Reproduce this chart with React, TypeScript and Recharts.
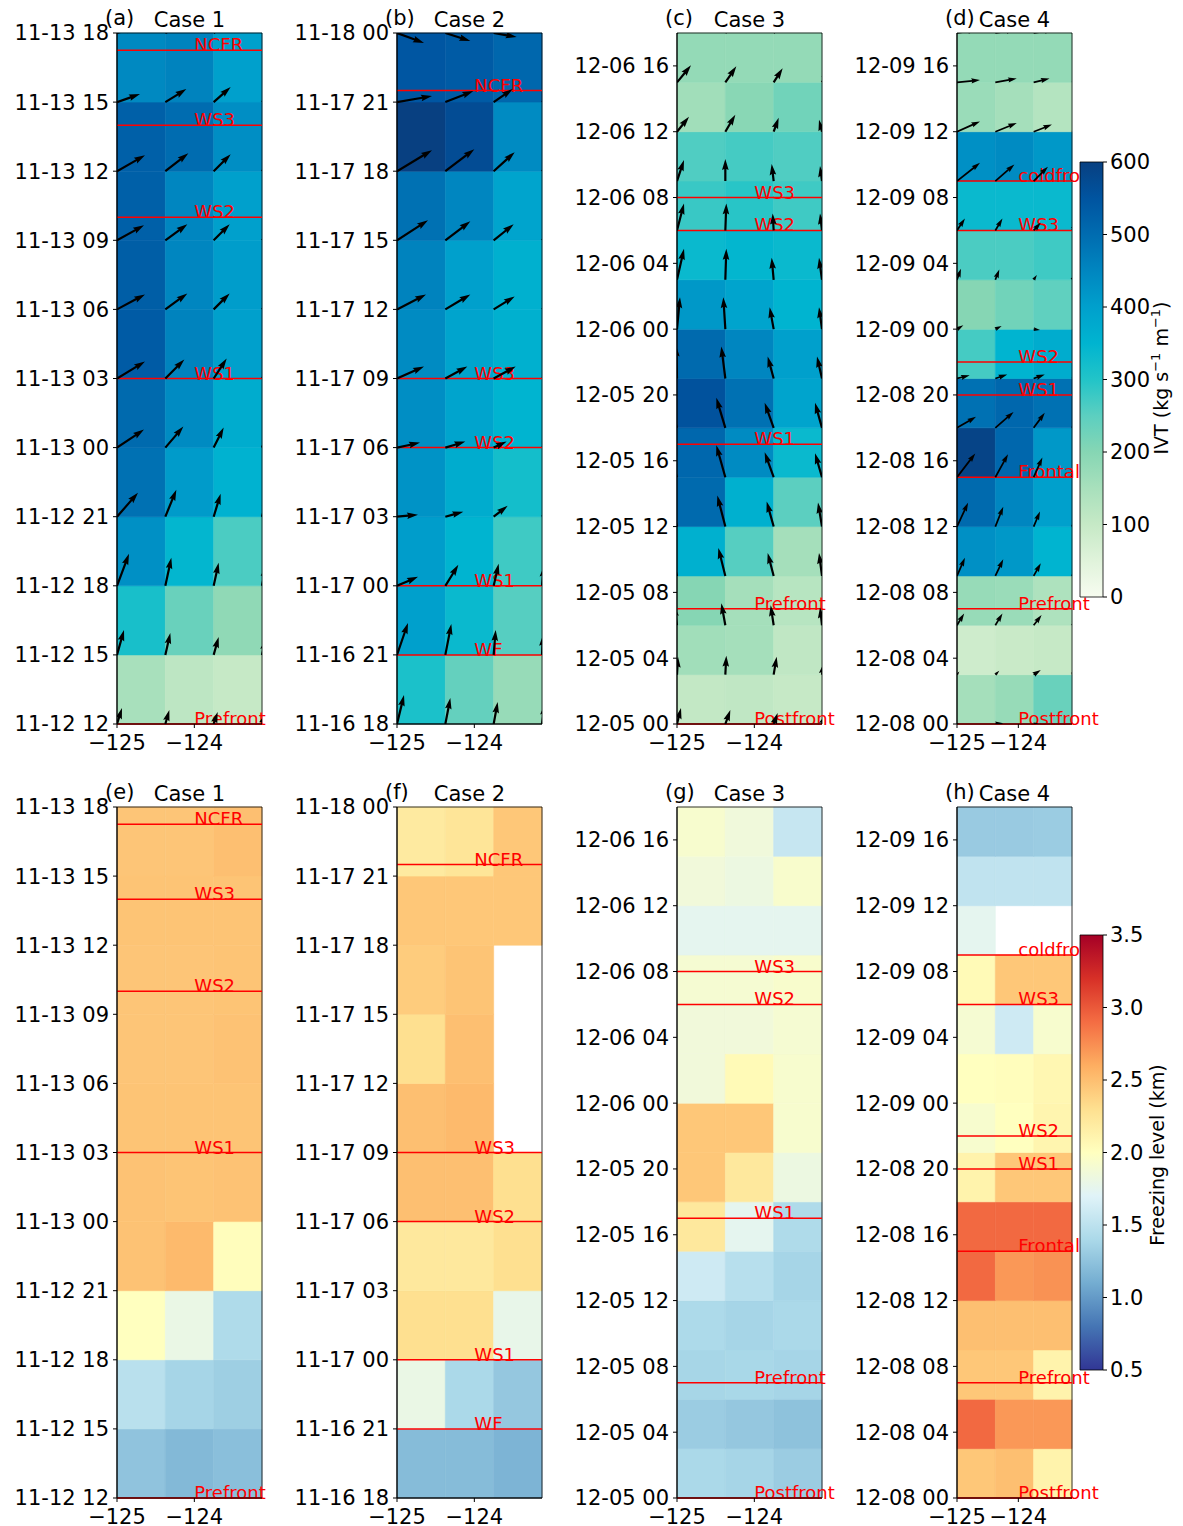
import React from "react";
import { ComposedChart, XAxis, YAxis, ReferenceArea, ReferenceLine, Scatter } from "recharts";

const FONT = "'DejaVu Sans', sans-serif";

// grid edges in longitude (deg), arrows sit on these points
const LON_EDGES = [-125, -124.375, -123.75, -123.125];
const LON_TICKS = [-125, -124];
const LABEL_LON = -124;

// time axis tick labels (MM-DD HH)
const TICKS_CASE1 = ["11-12 12", "11-12 15", "11-12 18", "11-12 21", "11-13 00", "11-13 03", "11-13 06", "11-13 09", "11-13 12", "11-13 15", "11-13 18"];
const TICKS_CASE2 = ["11-16 18", "11-16 21", "11-17 00", "11-17 03", "11-17 06", "11-17 09", "11-17 12", "11-17 15", "11-17 18", "11-17 21", "11-18 00"];
const TICKS_CASE3 = ["12-05 00", "12-05 04", "12-05 08", "12-05 12", "12-05 16", "12-05 20", "12-06 00", "12-06 04", "12-06 08", "12-06 12", "12-06 16"];
const TICKS_CASE4 = ["12-08 00", "12-08 04", "12-08 08", "12-08 12", "12-08 16", "12-08 20", "12-09 00", "12-09 04", "12-09 08", "12-09 12", "12-09 16"];

// IVT (kg s-1 m-1): one row per 3-h step from the first tick, columns west -> east
const IVT_CASE1 = [
  [150, 115, 100], [315, 235, 185], [430, 345, 265], [490, 410, 355], [505, 440, 370],
  [535, 455, 400], [530, 450, 405], [525, 450, 400], [525, 500, 435], [445, 455, 400],
];
const IVT_CASE2 = [
  [310, 240, 175], [400, 335, 255], [405, 350, 275], [425, 370, 320], [435, 390, 350],
  [440, 390, 360], [455, 400, 360], [490, 450, 390], [600, 570, 440], [545, 535, 510],
];
const IVT_CASE3 = [
  [105, 110, 100], [160, 155, 110], [200, 155, 125], [360, 255, 155], [505, 360, 250],
  [510, 440, 335], [555, 490, 390], [505, 450, 400], [415, 390, 350], [335, 345, 335],
  [280, 295, 275], [260, 270, 260], [160, 195, 225], [180, 180, 180],
];
const IVT_CASE4 = [
  [155, 175, 235], [85, 95, 100], [175, 170, 140], [430, 415, 350], [505, 450, 400],
  [590, 510, 415], [490, 510, 490], [270, 350, 370], [200, 225, 245], [265, 265, 275],
  [335, 335, 335], [430, 440, 415], [170, 155, 130], [180, 180, 180],
];

// freezing level (km), same layout; null = missing
const FZL_CASE1 = [
  [1.25, 1.18, 1.22], [1.48, 1.37, 1.33], [2.0, 1.8, 1.42], [2.48, 2.53, 2.02], [2.48, 2.47, 2.48],
  [2.47, 2.47, 2.47], [2.46, 2.46, 2.48], [2.46, 2.46, 2.47], [2.47, 2.47, 2.47], [2.46, 2.46, 2.5],
];
const FZL_CASE2 = [
  [1.2, 1.2, 1.15], [1.8, 1.4, 1.28], [2.3, 2.3, 1.78], [2.22, 2.22, 2.3], [2.5, 2.5, 2.3],
  [2.5, 2.53, null], [2.3, 2.5, null], [2.42, 2.47, null], [2.45, 2.45, 2.45], [2.2, 2.25, 2.45],
];
const FZL_CASE3 = [
  [1.4, 1.37, 1.31], [1.31, 1.28, 1.24], [1.38, 1.39, 1.37], [1.41, 1.37, 1.4], [1.6, 1.47, 1.37],
  [2.22, 1.75, 1.42], [2.45, 2.22, 1.82], [2.45, 2.45, 1.92], [1.86, 2.05, 1.92], [1.86, 1.86, 1.9],
  [1.9, 1.9, 1.93], [1.75, 1.75, 1.75], [1.86, 1.82, 1.93], [1.92, 1.85, 1.55],
];
const FZL_CASE4 = [
  [2.45, 2.5, 2.12], [2.92, 2.7, 2.7], [2.45, 2.45, 2.12], [2.5, 2.5, 2.5], [2.92, 2.7, 2.73],
  [2.92, 2.92, 2.92], [2.12, 2.45, 2.45], [1.92, 2.0, 2.1], [2.0, 2.02, 2.08], [1.9, 1.6, 1.92],
  [2.05, 2.45, 2.45], [1.75, null, null], [1.52, 1.52, 1.52], [1.3, 1.3, 1.31],
];

// IVT direction vectors [u, v] at every 3-h time (rows) and lon edge (cols)
const VEC_CASE1 = [
  [[5, 16], [4, 14], [4, 12], [4, 11]],
  [[7, 25], [5, 22], [5, 18], [4, 16]],
  [[12, 32], [6, 28], [5, 23], [4, 20]],
  [[21, 24], [11, 27], [7, 23], [6, 21]],
  [[27, 18], [18, 21], [10, 20], [8, 19]],
  [[28, 17], [19, 19], [13, 20], [11, 18]],
  [[28, 15], [22, 16], [16, 16], [14, 15]],
  [[27, 15], [22, 16], [16, 16], [14, 15]],
  [[28, 16], [23, 18], [17, 17], [15, 16]],
  [[23, 8], [21, 13], [17, 15], [15, 14]],
  [[20, 6], [18, 9], [15, 11], [14, 11]],
];
const VEC_CASE2 = [
  [[7, 29], [5, 26], [4, 22], [3, 20]],
  [[11, 32], [6, 31], [2, 25], [1, 20]],
  [[21, 9], [13, 21], [5, 22], [2, 20]],
  [[21, 2], [18, 5], [14, 11], [12, 10]],
  [[23, 5], [20, 6], [13, 6], [12, 6]],
  [[27, 12], [22, 12], [22, 12], [18, 10]],
  [[29, 15], [25, 15], [21, 13], [18, 12]],
  [[31, 20], [25, 19], [20, 16], [17, 14]],
  [[35, 21], [29, 22], [21, 19], [18, 16]],
  [[35, 6], [28, 11], [19, 13], [16, 12]],
  [[27, -10], [25, -8], [23, -4], [20, -3]],
];
const VEC_CASE3 = [
  [[4, 16], [5, 14], [4, 11], [4, 10]],
  [[1, 18], [1, 19], [3, 18], [2, 12]],
  [[-3, 20], [-4, 22], [-3, 20], [-2, 18]],
  [[-8, 30], [-7, 28], [-6, 23], [-3, 23]],
  [[-9, 33], [-8, 31], [-7, 25], [-4, 24]],
  [[-10, 33], [-9, 32], [-9, 25], [-7, 24]],
  [[-10, 33], [-9, 30], [-9, 25], [-7, 25]],
  [[-1, 33], [-4, 32], [-6, 22], [-5, 22]],
  [[3, 32], [-2, 32], [-4, 22], [-3, 22]],
  [[7, 31], [1, 31], [-2, 22], [-3, 22]],
  [[7, 27], [1, 27], [-1, 17], [-2, 17]],
  [[7, 21], [0, 22], [-2, 17], [-2, 15]],
  [[12, 15], [10, 17], [5, 14], [-3, 12]],
  [[14, 17], [11, 16], [9, 14], [8, 13]],
  [[14, 15], [12, 14], [10, 13], [9, 12]],
];
const VEC_CASE4 = [
  [[3, 0], [10, 1], [6, 1], [5, 1]],
  [[3, 4], [5, 5], [9, 6], [7, 5]],
  [[9, 15], [9, 15], [10, 13], [9, 12]],
  [[10, 23], [10, 21], [9, 16], [8, 16]],
  [[14, 30], [10, 25], [8, 19], [7, 18]],
  [[23, 30], [16, 29], [11, 25], [10, 23]],
  [[24, 14], [23, 20], [14, 19], [12, 17]],
  [[16, 4], [15, 5], [14, 5], [12, 5]],
  [[8, 5], [8, 4], [8, -1], [6, -1]],
  [[5, 14], [5, 13], [4, 6], [3, 6]],
  [[10, 15], [9, 15], [9, 10], [8, 10]],
  [[29, 23], [24, 21], [18, 18], [16, 16]],
  [[29, 13], [27, 11], [23, 9], [20, 8]],
  [[29, 3], [27, 5], [20, 5], [18, 5]],
  [[25, 4], [25, 4], [25, 4], [22, 4]],
];

// events: name and hours after the first tick
const EVENT_NAMES_CASE1 = ["Prefront", "WS1", "WS2", "WS3", "NCFR"];
const EVENT_HOURS_CASE1 = [0, 15, 22, 26, 29.25];
const EVENT_NAMES_CASE2 = ["WF", "WS1", "WS2", "WS3", "NCFR"];
const EVENT_HOURS_CASE2 = [3, 6, 12, 15, 27.5];
const EVENT_NAMES_CASE3 = ["Postfront", "Prefront", "WS1", "WS2", "WS3"];
const EVENT_HOURS_CASE3 = [0, 7, 17, 30, 32];
const EVENT_NAMES_CASE4 = ["Postfront", "Prefront", "Frontal", "WS1", "WS2", "WS3", "coldfront"];
const EVENT_HOURS_CASE4 = [0, 7, 15, 20, 22, 30, 33];

// colour maps
const IVT_STOPS: Array<[number, string]> = [
  [0, "#f7fcf0"], [50, "#e0f3db"], [100, "#c6e9c6"], [150, "#a8e0bc"], [200, "#86d6b4"],
  [250, "#5ccfc0"], [300, "#22c4c8"], [350, "#00b4d0"], [400, "#00a0cc"], [450, "#0086c0"],
  [500, "#006cb0"], [550, "#0054a0"], [600, "#084081"],
];
const FZL_STOPS: Array<[number, string]> = [
  [0.5, "#313695"], [0.8, "#4575b4"], [1.1, "#74add1"], [1.4, "#abd9e9"], [1.7, "#e0f3f8"],
  [2.0, "#ffffbf"], [2.3, "#fee090"], [2.6, "#fdae61"], [2.9, "#f46d43"], [3.2, "#d73027"],
  [3.5, "#a50026"],
];

const colorAt = (stops: Array<[number, string]>, v: number) => {
  if (v <= stops[0][0]) return stops[0][1];
  for (let i = 1; i < stops.length; i++) {
    if (v <= stops[i][0]) {
      const [v0, c0] = stops[i - 1];
      const [v1, c1] = stops[i];
      const f = (v - v0) / (v1 - v0);
      const a = parseInt(c0.slice(1), 16);
      const b = parseInt(c1.slice(1), 16);
      const ch = (s: number) => Math.round(((a >> s) & 255) * (1 - f) + ((b >> s) & 255) * f);
      return `rgb(${ch(16)},${ch(8)},${ch(0)})`;
    }
  }
  return stops[stops.length - 1][1];
};

const tickStyle = { fontSize: 21, fill: "#000", fontFamily: FONT };

// matplotlib-style quiver arrow, tail on the point
const Arrow = (props: any) => {
  const { cx, cy, k } = props;
  const d = props.payload ?? props.node;
  if (!d || !isFinite(cx) || !isFinite(cy)) return null;
  const L = Math.hypot(d.u, d.v) * k;
  if (L < 0.5) return null;
  const w = 2.2 * k;
  const hl = 5 * w;
  const hal = 4.5 * w;
  const hw = 3 * w;
  const Lb = Math.max(L, hl);
  const s = L < hl ? L / hl : 1;
  const pts = [
    [0, -w / 2], [Lb - hal, -w / 2], [Lb - hl, -hw / 2], [Lb, 0],
    [Lb - hl, hw / 2], [Lb - hal, w / 2], [0, w / 2],
  ];
  const ang = Math.atan2(-d.v, d.u);
  const c = Math.cos(ang);
  const sn = Math.sin(ang);
  const str = pts
    .map(([px, py]) => {
      const X = cx + s * (px * c - py * sn);
      const Y = cy + s * (px * sn + py * c);
      return `${X.toFixed(2)},${Y.toFixed(2)}`;
    })
    .join(" ");
  return <polygon points={str} fill="#000" />;
};

const EventLabel = ({ viewBox, text }: any) => {
  if (!viewBox) return null;
  const frac = (LABEL_LON - LON_EDGES[0]) / (LON_EDGES[3] - LON_EDGES[0]);
  return (
    <text x={viewBox.x + viewBox.width * frac} y={viewBox.y + 1} fill="#ff0000" fontSize={18} fontFamily={FONT}>
      {text}
    </text>
  );
};

interface PanelProps {
  tag: string;
  title: string;
  left: number;
  top: number;
  narrow?: boolean;
  ticks: string[];
  tickStep: number;
  grid: (number | null)[][];
  stops: Array<[number, string]>;
  vectors?: number[][][];
  eventNames: string[];
  eventHours: number[];
}

const Panel = (p: PanelProps) => {
  const plotW = p.narrow ? 115 : 145;
  const width = 117 + plotW + 8;
  const span = p.grid.length * 3;
  const k = plotW / 145;
  const tickVals = p.ticks.map((_, i) => i * p.tickStep);
  const arrows = (p.vectors ?? []).flatMap((row, i) =>
    row.map(([u, v], j) => ({ x: LON_EDGES[j], t: i * 3, u, v }))
  );

  return (
    <div style={{ position: "absolute", left: p.left, top: p.top }}>
      <ComposedChart width={width} height={752} margin={{ top: 33, right: 8, bottom: 0, left: 7 }}>
        <XAxis
          type="number"
          dataKey="x"
          domain={[LON_EDGES[0], LON_EDGES[3]]}
          allowDataOverflow
          ticks={LON_TICKS}
          interval={0}
          tickFormatter={(v) => `\u2212${Math.abs(v)}`}
          height={28}
          tickSize={4}
          tickMargin={7}
          stroke="#000"
          tick={tickStyle}
        />
        <YAxis
          type="number"
          dataKey="t"
          domain={[0, span]}
          allowDataOverflow
          ticks={tickVals}
          interval={0}
          tickFormatter={(v) => p.ticks[Math.round(v / p.tickStep)]}
          width={110}
          tickSize={4}
          tickMargin={4}
          stroke="#000"
          tick={tickStyle}
        />
        {p.grid.map((row, r) =>
          row.map((val, c) => {
            if (val == null) return null;
            const col = colorAt(p.stops, val);
            return (
              <ReferenceArea
                key={`cell-${r}-${c}`}
                x1={LON_EDGES[c]}
                x2={LON_EDGES[c + 1]}
                y1={r * 3}
                y2={r * 3 + 3}
                fill={col}
                fillOpacity={1}
                stroke={col}
                strokeWidth={0.6}
                ifOverflow="visible"
              />
            );
          })
        )}
        {p.eventHours.map((h, i) => (
          <ReferenceLine
            key={`ev-${i}`}
            y={h}
            stroke="#ff0000"
            strokeWidth={1.5}
            ifOverflow="visible"
            label={{ content: (lp: any) => <EventLabel viewBox={lp.viewBox} text={p.eventNames[i]} /> }}
          />
        ))}
        {arrows.length > 0 && (
          <Scatter
            data={arrows}
            fill="#000"
            isAnimationActive={false}
            shape={(sp: any) => <Arrow {...sp} k={k} />}
          />
        )}
        <ReferenceArea
          x1={LON_EDGES[0]}
          x2={LON_EDGES[3]}
          y1={0}
          y2={span}
          fill="none"
          fillOpacity={0}
          stroke="#000"
          strokeWidth={0.8}
          ifOverflow="visible"
        />
        <text x={105} y={25} fontSize={21} fontFamily={FONT} fill="#000">
          ({p.tag})
        </text>
        <text x={117 + plotW / 2} y={27} fontSize={21} fontFamily={FONT} fill="#000" textAnchor="middle">
          {p.title}
        </text>
      </ComposedChart>
    </div>
  );
};

interface ColorbarProps {
  left: number;
  top: number;
  id: string;
  stops: Array<[number, string]>;
  domain: [number, number];
  ticks: number[];
  fmt: (v: number) => string;
  children?: React.ReactNode;
}

const Colorbar = (c: ColorbarProps) => (
  <div style={{ position: "absolute", left: c.left, top: c.top }}>
    <ComposedChart width={113} height={480} margin={{ top: 22, right: 0, bottom: 23, left: 10 }}>
      <defs>
        <linearGradient id={c.id} x1="0" y1="1" x2="0" y2="0">
          {c.stops.map(([v, col]) => (
            <stop key={v} offset={(v - c.domain[0]) / (c.domain[1] - c.domain[0])} stopColor={col} />
          ))}
        </linearGradient>
      </defs>
      <XAxis type="number" dataKey="x" domain={[0, 1]} allowDataOverflow hide />
      <YAxis
        type="number"
        orientation="right"
        domain={c.domain}
        allowDataOverflow
        ticks={c.ticks}
        interval={0}
        width={80}
        tickSize={4}
        tickMargin={3}
        axisLine={false}
        stroke="#000"
        tickFormatter={c.fmt}
        tick={tickStyle}
      />
      <ReferenceArea
        x1={0}
        x2={1}
        y1={c.domain[0]}
        y2={c.domain[1]}
        fill={`url(#${c.id})`}
        fillOpacity={1}
        stroke="#000"
        strokeWidth={0.8}
        ifOverflow="visible"
      />
      {c.children}
    </ComposedChart>
  </div>
);

export default function App() {
  return (
    <div style={{ position: "absolute", left: 0, top: 0, width: 1183, height: 1526, background: "#fff", overflow: "hidden" }}>
      <style>{`.recharts-surface{overflow:visible} html,body{overflow:hidden}`}</style>
      <Panel tag="a" title="Case 1" left={0} top={0} ticks={TICKS_CASE1} tickStep={3} grid={IVT_CASE1} stops={IVT_STOPS} vectors={VEC_CASE1} eventNames={EVENT_NAMES_CASE1} eventHours={EVENT_HOURS_CASE1} />
      <Panel tag="b" title="Case 2" left={280} top={0} ticks={TICKS_CASE2} tickStep={3} grid={IVT_CASE2} stops={IVT_STOPS} vectors={VEC_CASE2} eventNames={EVENT_NAMES_CASE2} eventHours={EVENT_HOURS_CASE2} />
      <Panel tag="c" title="Case 3" left={560} top={0} ticks={TICKS_CASE3} tickStep={4} grid={IVT_CASE3} stops={IVT_STOPS} vectors={VEC_CASE3} eventNames={EVENT_NAMES_CASE3} eventHours={EVENT_HOURS_CASE3} />
      <Panel tag="d" title="Case 4" left={840} top={0} narrow ticks={TICKS_CASE4} tickStep={4} grid={IVT_CASE4} stops={IVT_STOPS} vectors={VEC_CASE4} eventNames={EVENT_NAMES_CASE4} eventHours={EVENT_HOURS_CASE4} />
      <Panel tag="e" title="Case 1" left={0} top={774} ticks={TICKS_CASE1} tickStep={3} grid={FZL_CASE1} stops={FZL_STOPS} eventNames={EVENT_NAMES_CASE1} eventHours={EVENT_HOURS_CASE1} />
      <Panel tag="f" title="Case 2" left={280} top={774} ticks={TICKS_CASE2} tickStep={3} grid={FZL_CASE2} stops={FZL_STOPS} eventNames={EVENT_NAMES_CASE2} eventHours={EVENT_HOURS_CASE2} />
      <Panel tag="g" title="Case 3" left={560} top={774} ticks={TICKS_CASE3} tickStep={4} grid={FZL_CASE3} stops={FZL_STOPS} eventNames={EVENT_NAMES_CASE3} eventHours={EVENT_HOURS_CASE3} />
      <Panel tag="h" title="Case 4" left={840} top={774} narrow ticks={TICKS_CASE4} tickStep={4} grid={FZL_CASE4} stops={FZL_STOPS} eventNames={EVENT_NAMES_CASE4} eventHours={EVENT_HOURS_CASE4} />
      <Colorbar left={1070} top={140} id="ivtGrad" stops={IVT_STOPS} domain={[0, 600]} ticks={[0, 100, 200, 300, 400, 500, 600]} fmt={(v) => String(v)}>
        <text x={98} y={238} transform="rotate(-90 98 238)" textAnchor="middle" fontSize={19} fontFamily={FONT} fill="#000">
          IVT (kg s<tspan dy={-8} fontSize={13}>{"\u22121"}</tspan>
          <tspan dy={8}> m</tspan>
          <tspan dy={-8} fontSize={13}>{"\u22121"}</tspan>
          <tspan dy={8}>)</tspan>
        </text>
      </Colorbar>
      <Colorbar left={1070} top={913} id="fzlGrad" stops={FZL_STOPS} domain={[0.5, 3.5]} ticks={[0.5, 1, 1.5, 2, 2.5, 3, 3.5]} fmt={(v) => v.toFixed(1)}>
        <text x={94} y={242} transform="rotate(-90 94 242)" textAnchor="middle" fontSize={19} fontFamily={FONT} fill="#000">
          Freezing level (km)
        </text>
      </Colorbar>
    </div>
  );
}
